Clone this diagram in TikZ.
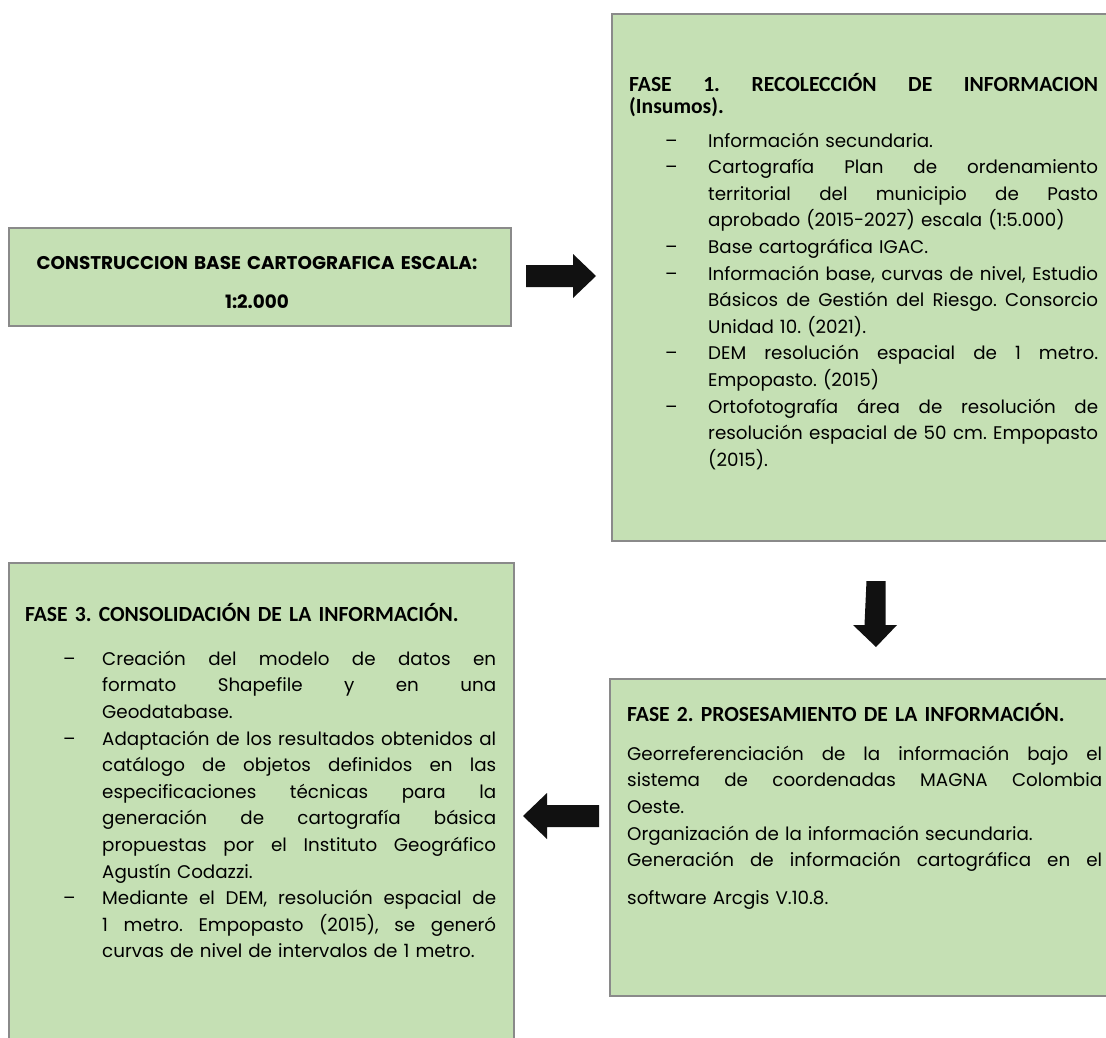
\documentclass[tikz,border=0pt]{standalone}
\usepackage{fontspec}
\setmainfont{Poppins}
\newfontfamily\hfont{Carlito}
\definecolor{boxfill}{HTML}{C5E0B4}
\definecolor{boxline}{HTML}{8A8A8A}
\definecolor{arrowc}{HTML}{111111}
\frenchspacing
\newlength\dind
\newlength\tind
\newlength\sth
\newcommand\SR{\rule{0pt}{\sth}}
\newcommand\SK{\spaceskip=\fontdimen2\font plus 1fil minus 0.12em\relax}
\newcommand\JL[1]{\noindent\SR{\SK\makebox[\linewidth][s]{#1}}\par}
\newcommand\RL[1]{\noindent\SR#1\par}
\newcommand\BJ[1]{\noindent\SR\hspace*{\dind}\makebox[\dimexpr\tind-\dind\relax][l]{–}{\SK\makebox[\dimexpr\linewidth-\tind\relax][s]{#1}}\par}
\newcommand\BR[1]{\noindent\SR\hspace*{\dind}\makebox[\dimexpr\tind-\dind\relax][l]{–}#1\par}
\newcommand\CJ[1]{\noindent\SR\hspace*{\tind}{\SK\makebox[\dimexpr\linewidth-\tind\relax][s]{#1}}\par}
\newcommand\CR[1]{\noindent\SR\hspace*{\tind}#1\par}
\tikzset{
  box/.style={draw=boxline, line width=1.6pt, fill=boxfill, rectangle, inner sep=0pt, anchor=north west},
  headtxt/.style={anchor=north west, inner sep=0pt,
    font={\hfont\bfseries\fontsize{21.6}{22}\selectfont\frenchspacing\setlength\sth{17pt}}},
  bodytxt/.style={anchor=north west, inner sep=0pt,
    font={\fontsize{18.3}{26.6}\selectfont\frenchspacing\setlength\sth{19pt}}},
  blockarrow/.style={fill=arrowc, draw=none}
}
\begin{document}
\begin{tikzpicture}[x=1pt,y=-1pt]
\useasboundingbox (0,0) rectangle (1106,1038);
\clip (0,0) rectangle (1106,1038);
\fill[white] (0,0) rectangle (1106,1038);
% boxes
\node[box, minimum width=502pt, minimum height=98pt] (ba) at (8,227) {};
\node[box, minimum width=520pt, minimum height=527pt] (b1) at (611,13) {};
\node[box, minimum width=520pt, minimum height=317pt] (b2) at (609,678) {};
\node[box, minimum width=505pt, minimum height=500pt] (b3) at (8,562) {};
% box A text
\node[anchor=north, inner sep=0pt, text width=500pt, align=center,
  font={\bfseries\fontsize{18.4}{39}\selectfont\setlength\sth{17pt}}] (ta) at (257,252)
  {\SR CONSTRUCCION BASE CARTOGRAFICA ESCALA:\par\SR 1:2.000\par};
% box 1 text
\node[headtxt, text width=469pt] (h1) at (629,73)
  {\JL{FASE 1. RECOLECCIÓN DE INFORMACION}\RL{(Insumos).}};
\node[bodytxt, text width=469pt] (l1) at (629,128)
  {\setlength\dind{36pt}\setlength\tind{79pt}%
   \BR{Información secundaria.}
   \BJ{Cartografía Plan de ordenamiento}
   \CJ{territorial del municipio de Pasto}
   \CR{aprobado (2015-2027) escala (1:5.000)}
   \BR{Base cartográfica IGAC.}
   \BJ{Información base, curvas de nivel, Estudio}
   \CJ{Básicos de Gestión del Riesgo. Consorcio}
   \CR{Unidad 10. (2021).}
   \BJ{DEM resolución espacial de 1 metro.}
   \CR{Empopasto. (2015)}
   \BJ{Ortofotografía área de resolución de}
   \CJ{resolución espacial de 50 cm. Empopasto}
   \CR{(2015).}};
% box 2 text
\node[headtxt, text width=475pt] (h2) at (627,703)
  {\RL{FASE 2. PROSESAMIENTO DE LA INFORMACIÓN.}};
\node[bodytxt, text width=475pt] (l2) at (627,741)
  {\JL{Georreferenciación de la información bajo el}
   \JL{sistema de coordenadas MAGNA Colombia}
   \RL{Oeste.}
   \RL{Organización de la información secundaria.}
   \JL{Generación de información cartográfica en el}
   \vskip 11pt
   \RL{software Arcgis V.10.8.}};
% box 3 text
\node[headtxt, text width=471pt] (h3) at (25,603)
  {\RL{FASE 3. CONSOLIDACIÓN DE LA INFORMACIÓN.}};
\node[bodytxt, text width=471pt] (l3) at (25,646)
  {\setlength\dind{38pt}\setlength\tind{77pt}%
   \BJ{Creación del modelo de datos en}
   \CJ{formato Shapefile y en una}
   \CR{Geodatabase.}
   \BJ{Adaptación de los resultados obtenidos al}
   \CJ{catálogo de objetos definidos en las}
   \CJ{especificaciones técnicas para la}
   \CJ{generación de cartografía básica}
   \CJ{propuestas por el Instituto Geográfico}
   \CR{Agustín Codazzi.}
   \BJ{Mediante el DEM, resolución espacial de}
   \CJ{1 metro. Empopasto (2015), se generó}
   \CR{curvas de nivel de intervalos de 1 metro.}};
% arrows
\coordinate (ar) at (526,276);
\fill[blockarrow] (ar) ++(0,-11) -- ++(47,0) -- ++(0,-11) -- ++(23,22) -- ++(-23,22) -- ++(0,-11) -- ++(-47,0) -- cycle;
\coordinate (ad) at (876,581);
\fill[blockarrow] (ad) ++(-9.5,0) -- ++(19,0) -- ++(0,44) -- ++(11.5,0) -- ++(-21,22) -- ++(-23,-22) -- ++(11.5,0) -- cycle;
\coordinate (al) at (599,816);
\fill[blockarrow] (al) ++(0,-11) -- ++(-52,0) -- ++(0,-12) -- ++(-24,23) -- ++(24,23) -- ++(0,-12) -- ++(52,0) -- cycle;
\end{tikzpicture}
\end{document}
